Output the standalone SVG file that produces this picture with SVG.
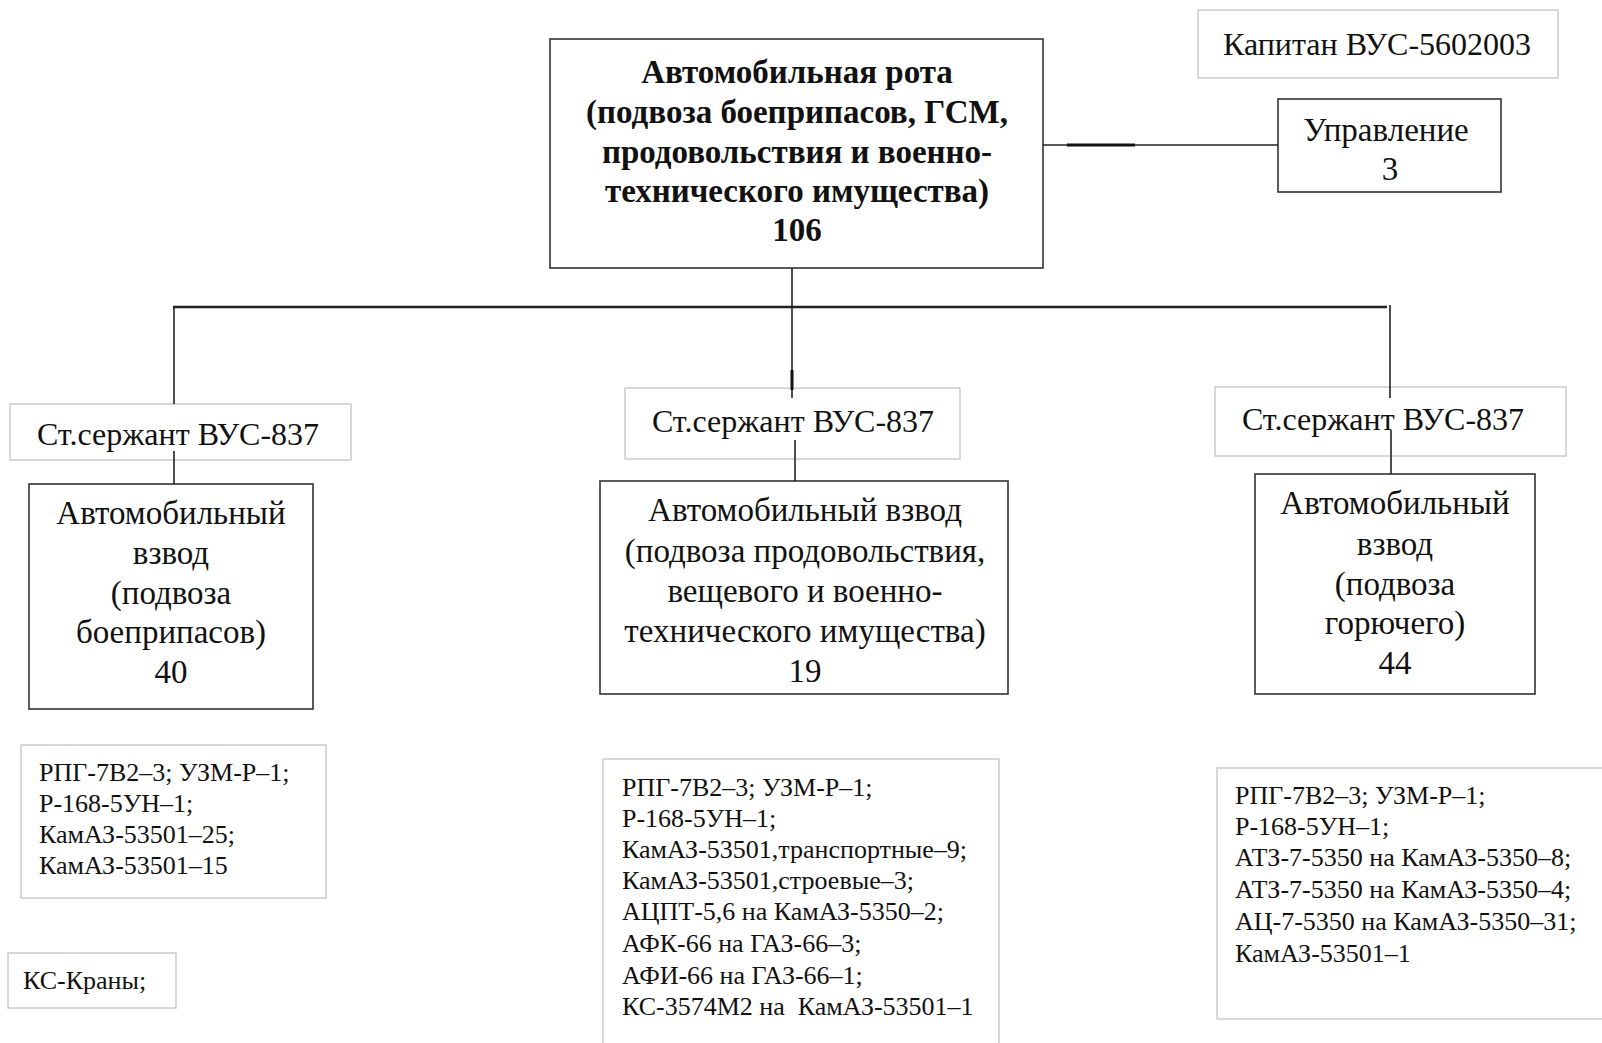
<svg xmlns="http://www.w3.org/2000/svg" width="1602" height="1043" viewBox="0 0 1602 1043">
<style>
text{font-family:"Liberation Serif","Times New Roman",serif;fill:#111}
.b{font-weight:bold;font-size:33px}
.m{font-size:33px}
.s{font-size:32px}
.e{font-size:26px}
.c{text-anchor:middle}
.dark{fill:#fff;stroke:#333;stroke-width:1.6}
.light{fill:#fff;stroke:#c4c4c4;stroke-width:1.3}
.ln{stroke:#222;stroke-width:1.6;fill:none}
.thk{stroke:#111;stroke-width:3;fill:none}
.bus{stroke:#222;stroke-width:2.5;fill:none}
</style>
<rect width="1602" height="1043" fill="#fff"/>

<g id="captain">
<rect class="light" x="1198" y="10" width="360" height="68"/>
<text class="s c" x="1377" y="55">Капитан ВУС-5602003</text>
</g>

<g id="company">
<rect class="dark" x="550" y="39" width="493" height="229"/>
<text class="b c" x="797" y="83">Автомобильная рота</text>
<text class="b c" x="797" y="123">(подвоза боеприпасов, ГСМ,</text>
<text class="b c" x="797" y="163">продовольствия и военно-</text>
<text class="b c" x="797" y="202">технического имущества)</text>
<text class="b c" x="797" y="241">106</text>
</g>

<g id="management">
<rect class="dark" x="1278" y="99" width="223" height="93"/>
<text class="m c" x="1386" y="141">Управление</text>
<text class="m c" x="1390" y="180">3</text>
</g>

<g id="sgt-left">
<rect class="light" x="10" y="404" width="341" height="56"/>
<text class="s c" x="178" y="445">Ст.сержант ВУС-837</text>
</g>
<g id="sgt-mid">
<rect class="light" x="625" y="388" width="335" height="71"/>
<text class="s c" x="793" y="432">Ст.сержант ВУС-837</text>
</g>
<g id="sgt-right">
<rect class="light" x="1215" y="387" width="351" height="69"/>
<text class="s c" x="1383" y="430">Ст.сержант ВУС-837</text>
</g>

<g id="platoon-ammo">
<rect class="dark" x="29" y="484" width="284" height="225"/>
<text class="m c" x="171" y="524">Автомобильный</text>
<text class="m c" x="171" y="564">взвод</text>
<text class="m c" x="171" y="604">(подвоза</text>
<text class="m c" x="171" y="643">боеприпасов)</text>
<text class="m c" x="171" y="683">40</text>
</g>

<g id="platoon-food">
<rect class="dark" x="600" y="481" width="408" height="213"/>
<text class="m c" x="805" y="521">Автомобильный взвод</text>
<text class="m c" x="805" y="562">(подвоза продовольствия,</text>
<text class="m c" x="805" y="602">вещевого и военно-</text>
<text class="m c" x="805" y="642">технического имущества)</text>
<text class="m c" x="805" y="682">19</text>
</g>

<g id="platoon-fuel">
<rect class="dark" x="1255" y="474" width="280" height="220"/>
<text class="m c" x="1395" y="514">Автомобильный</text>
<text class="m c" x="1395" y="555">взвод</text>
<text class="m c" x="1395" y="595">(подвоза</text>
<text class="m c" x="1395" y="634">горючего)</text>
<text class="m c" x="1395" y="674">44</text>
</g>

<g id="equip-left">
<rect class="light" x="21" y="745" width="305" height="153"/>
<text class="e" x="39" y="781">РПГ-7В2–3; УЗМ-Р–1;</text>
<text class="e" x="39" y="812">Р-168-5УН–1;</text>
<text class="e" x="39" y="843">КамАЗ-53501–25;</text>
<text class="e" x="39" y="874">КамАЗ-53501–15</text>
</g>

<g id="cranes">
<rect class="light" x="8" y="953" width="168" height="55"/>
<text class="e" x="23" y="989">КС-Краны;</text>
</g>

<g id="equip-mid">
<rect class="light" x="603" y="759" width="396" height="300"/>
<text class="e" x="622" y="796">РПГ-7В2–3; УЗМ-Р–1;</text>
<text class="e" x="622" y="827">Р-168-5УН–1;</text>
<text class="e" x="622" y="858">КамАЗ-53501,транспортные–9;</text>
<text class="e" x="622" y="889">КамАЗ-53501,строевые–3;</text>
<text class="e" x="622" y="920">АЦПТ-5,6 на КамАЗ-5350–2;</text>
<text class="e" x="622" y="952">АФК-66 на ГАЗ-66–3;</text>
<text class="e" x="622" y="984">АФИ-66 на ГАЗ-66–1;</text>
<text class="e" x="622" y="1015">КС-3574М2 на&#160; КамАЗ-53501–1</text>
</g>

<g id="equip-right">
<rect class="light" x="1217" y="768" width="400" height="251"/>
<text class="e" x="1235" y="804">РПГ-7В2–3; УЗМ-Р–1;</text>
<text class="e" x="1235" y="835">Р-168-5УН–1;</text>
<text class="e" x="1235" y="866">АТЗ-7-5350 на КамАЗ-5350–8;</text>
<text class="e" x="1235" y="898">АТЗ-7-5350 на КамАЗ-5350–4;</text>
<text class="e" x="1235" y="930">АЦ-7-5350 на КамАЗ-5350–31;</text>
<text class="e" x="1235" y="962">КамАЗ-53501–1</text>
</g>

<g id="connectors">
<line class="ln" x1="1043" y1="145" x2="1278" y2="145"/>
<line class="thk" x1="1067" y1="145" x2="1135" y2="145"/>
<line class="ln" x1="792" y1="268" x2="792" y2="398"/>
<line class="thk" x1="792" y1="370" x2="792" y2="390"/>
<line class="bus" x1="173" y1="307" x2="1387" y2="307"/>
<line class="ln" x1="174" y1="307" x2="174" y2="404"/>
<line class="ln" x1="1390" y1="305" x2="1390" y2="398"/>
<line class="ln" x1="174" y1="451" x2="174" y2="484"/>
<line class="ln" x1="795" y1="440" x2="795" y2="481"/>
<line class="ln" x1="1391" y1="430" x2="1391" y2="474"/>
</g>
</svg>
